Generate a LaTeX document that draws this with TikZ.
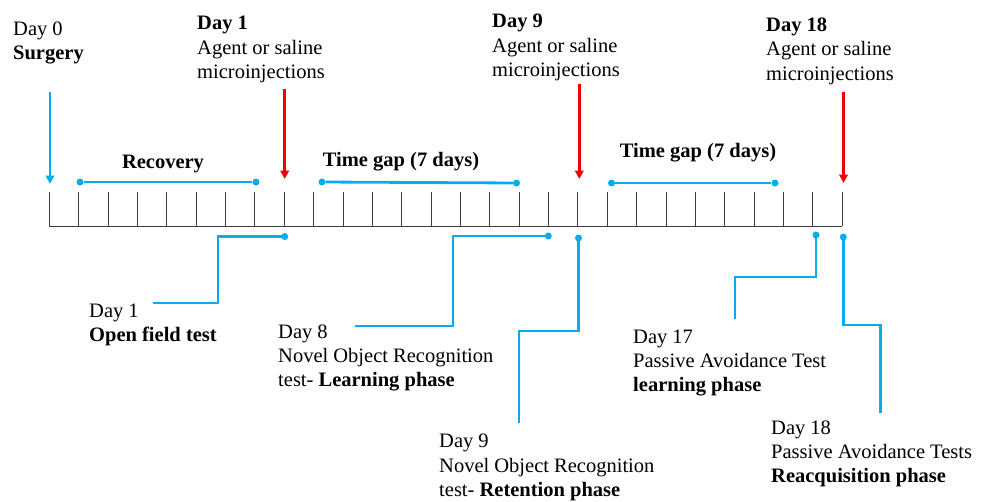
\documentclass[tikz,border=0pt]{standalone}
\usepackage{fontspec}
\setmainfont{Liberation Serif}
\usetikzlibrary{arrows.meta}
\definecolor{tlblue}{RGB}{8,172,236}
\definecolor{tlred}{RGB}{245,0,0}
\definecolor{tlgray}{RGB}{60,60,60}
\begin{document}
\begin{tikzpicture}[x=1pt,y=-1pt,
  % multi-line labels are placed by the baseline of their last line
  lbl/.style={inner sep=0pt,anchor=base west,align=left,font=\fontsize{20.5}{24.4}\selectfont},
  hdr/.style={inner sep=0pt,anchor=base,font=\fontsize{20.5}{24.4}\selectfont\bfseries},
  tick/.style={draw=tlgray,line width=1pt},
  span/.style={draw=tlblue,line width=2.8pt},
  lead/.style={draw=tlblue,line width=2.8pt},
  dot/.style={circle,fill=tlblue,inner sep=0pt,minimum size=7pt},
  inject/.style={draw=tlred,line width=2.8pt,-{Triangle[width=8.5pt,length=8.5pt]}},
  surg/.style={draw=tlblue,line width=2.6pt,-{Triangle[width=8.5pt,length=8.5pt]}}]
\useasboundingbox (0,0) rectangle (988,501);

% timeline: baseline and 28 ticks
\foreach \i in {0,...,27} {
  \coordinate (t\i) at ({49.3+29.37*\i},226);
  \coordinate (u\i) at ({49.3+29.37*\i},192);
  \draw[tick] (t\i) -- (u\i);
}
\draw[tick] (t0) -- (t27);

% top labels
\node[lbl] (day0) at (13,59.5) {Day 0\\\textbf{Surgery}};
\node[lbl] (inj1) at (197,78.5) {\textbf{Day 1}\\Agent or saline\\microinjections};
\node[lbl] (inj9) at (492,76.5) {\textbf{Day 9}\\Agent or saline\\microinjections};
\node[lbl] (inj18) at (766,80) {\textbf{Day 18}\\Agent or saline\\microinjections};

% arrows onto the timeline
\coordinate (s0) at (50,92);   \coordinate (s1) at (50,184);
\draw[surg] (s0) -- (s1);
\coordinate (r1a) at (284.7,89);  \coordinate (r1b) at (284.7,179);
\coordinate (r9a) at (579.3,84);  \coordinate (r9b) at (579.3,179);
\coordinate (r18a) at (843.5,92); \coordinate (r18b) at (843.5,183);
\draw[inject] (r1a) -- (r1b);
\draw[inject] (r9a) -- (r9b);
\draw[inject] (r18a) -- (r18b);

% periods above the timeline
\node[dot] (rec0) at (80,182) {};
\node[dot] (rec1) at (256,182) {};
\draw[span] (rec0) -- (rec1);
\node[hdr] (recl) at (163,168) {Recovery};

\node[dot] (gap0) at (322,182) {};
\node[dot] (gap1) at (516.5,183) {};
\draw[span] (gap0) -- (gap1);
\node[hdr] (gapl) at (401,166) {Time gap (7 days)};

\node[dot] (gbp0) at (611.5,183) {};
\node[dot] (gbp1) at (775,183) {};
\draw[span] (gbp0) -- (gbp1);
\node[hdr] (gbpl) at (698,157) {Time gap (7 days)};

% tests below the timeline
\node[dot] (p1) at (284.7,236.5) {};
\node[dot] (p8) at (548.3,236) {};
\node[dot] (p9) at (578.5,238) {};
\node[dot] (p17) at (816,235) {};
\node[dot] (p18) at (843.3,237) {};

\coordinate (e1) at (153,303);
\coordinate (e8) at (355,326);
\coordinate (e9) at (519,423);
\coordinate (e17) at (735,319);
\coordinate (e18) at (880.7,413);

\draw[lead] (p1.center) -- (218,236.5) -- (218,303) -- (e1);
\draw[lead] (p8.center) -- (453,236) -- (453,326) -- (e8);
\draw[lead] (p9.center) -- (578.5,331) -- (519,331) -- (e9);
\draw[lead] (p17.center) -- (816,277) -- (735,277) -- (e17);
\draw[lead] (p18.center) -- (843.3,325) -- (880.7,325) -- (e18);

\node[lbl] (lab1) at (89,341.5) {Day 1\\\textbf{Open field test}};
\node[lbl] (lab8) at (278,386.8) {Day 8\\Novel Object Recognition\\test- \textbf{Learning phase}};
\node[lbl] (lab9) at (439,496.5) {Day 9\\Novel Object Recognition\\test- \textbf{Retention phase}};
\node[lbl] (lab17) at (633,391.8) {Day 17\\Passive Avoidance Test\\\textbf{learning phase}};
\node[lbl] (lab18) at (771,482.8) {Day 18\\Passive Avoidance Tests\\\textbf{Reacquisition phase}};
\end{tikzpicture}
\end{document}
